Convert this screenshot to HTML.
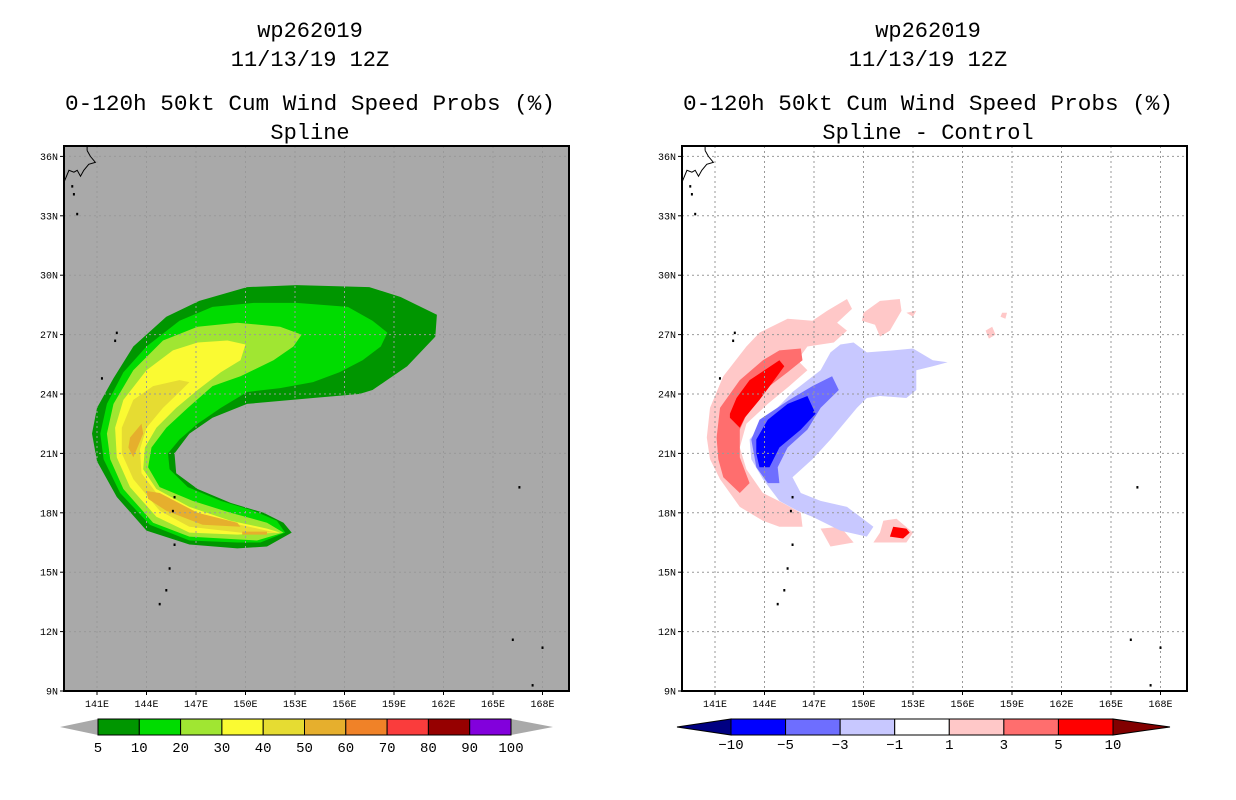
<!DOCTYPE html>
<html><head><meta charset="utf-8"><style>
html,body{margin:0;padding:0;background:#fff;}
svg{display:block;}
text{font-family:"Liberation Mono",monospace;}
</style></head><body>
<svg id="root" width="1236" height="800" viewBox="0 0 1236 800" xmlns="http://www.w3.org/2000/svg"></svg>
<script>
// ---- data ----
const latTicks=[36,33,30,27,24,21,18,15,12,9];
const lonTicks=[141,144,147,150,153,156,159,162,165,168];
const probLevels=[5,10,20,30,40,50,60,70,80,90,100];
const probColors=['#009600','#00dc00','#a0e632','#fafa32','#e6dc32','#e6af2d','#f08228','#fa3c3c','#960000','#8200dc'];
const diffLevels=[-10,-5,-3,-1,1,3,5,10];
const diffColors=['#0000ff','#6e6eff','#c8c8ff','#ffffff','#ffc8c8','#ff6e6e','#ff0000'];
// contour polygons [lon,lat]
const prob5=[[152.8,17.0],[151.3,16.3],[149.5,16.2],[146.6,16.4],[144.0,17.1],[142.2,18.8],[141.0,20.6],[140.7,22.0],[141.0,23.3],[142.0,24.8],[143.2,26.4],[145.2,27.9],[147.2,28.7],[150.1,29.4],[153.1,29.5],[157.5,29.4],[159.4,28.9],[161.6,28.0],[161.5,26.9],[159.8,25.4],[157.7,24.2],[156.9,24.0],[154.1,23.8],[150.1,23.5],[148.0,22.8],[146.6,22.0],[145.7,21.0],[145.8,20.0],[147.1,19.2],[149.1,18.5],[151.1,18.0],[152.3,17.5]];
const prob10=[[152.4,17.0],[150.9,16.5],[149.5,16.5],[146.6,16.6],[144.2,17.4],[142.4,19.0],[141.4,20.7],[141.2,22.0],[141.6,23.5],[142.6,25.1],[144.0,26.4],[146.0,27.7],[148.0,28.4],[150.5,28.6],[153.1,28.6],[156.2,28.4],[157.7,27.7],[158.6,27.1],[158.2,26.4],[157.1,25.7],[155.7,25.1],[154.1,24.6],[152.1,24.3],[150.1,24.1],[148.5,23.3],[147.1,22.5],[146.0,21.7],[145.3,21.0],[145.4,20.2],[146.5,19.3],[148.5,18.6],[150.5,18.1],[151.9,17.6]];
const prob20=[[152.3,17.0],[150.7,16.6],[146.6,16.8],[144.4,17.5],[142.6,19.2],[141.8,20.7],[141.6,22.0],[142.0,23.5],[143.2,25.2],[145.0,26.7],[147.1,27.4],[149.5,27.6],[152.1,27.4],[153.4,27.0],[152.9,26.4],[151.7,25.7],[149.7,24.9],[148.0,24.4],[146.5,23.3],[145.2,22.3],[144.3,21.3],[144.1,20.3],[144.8,19.3],[146.8,18.6],[149.1,18.0],[151.3,17.5]];
const prob30=[[152.1,17.0],[149.5,16.9],[146.6,17.0],[144.6,17.8],[143.0,19.3],[142.2,20.8],[142.1,22.3],[142.6,23.7],[144.0,25.2],[145.6,26.2],[147.1,26.6],[148.9,26.7],[150.0,26.5],[149.7,25.7],[148.5,25.1],[147.1,24.2],[145.8,23.3],[144.6,22.3],[143.9,21.3],[143.8,20.2],[144.6,19.2],[146.6,18.3],[149.1,17.6],[151.3,17.2]];
const prob40=[[151.9,17.0],[149.7,17.0],[146.6,17.3],[144.8,18.1],[143.2,19.7],[142.5,21.0],[142.5,22.3],[143.2,23.7],[144.4,24.4],[146.0,24.7],[146.6,24.6],[146.0,24.1],[145.0,23.3],[144.0,22.3],[143.6,21.2],[143.7,20.0],[144.6,19.0],[146.6,18.1],[149.1,17.5],[151.3,17.1]];
const prob50a=[[143.0,21.8],[143.7,22.5],[143.8,22.0],[143.2,20.8],[142.9,21.3]];
const prob50b=[[144.0,19.1],[144.8,19.0],[147.1,18.0],[149.5,17.5],[149.7,17.3],[147.4,17.4],[145.2,18.1],[144.1,18.7]];
const prob50c=[[149.8,17.05],[151.3,17.05],[151.3,16.9],[149.8,16.9]];
const diffPos1=[[140.5,21.8],[140.7,23.3],[141.5,24.9],[142.9,26.4],[143.7,27.1],[145.4,27.8],[146.9,27.7],[147.8,28.2],[149.0,28.8],[149.3,28.3],[148.4,27.6],[149.0,27.2],[148.2,26.6],[146.6,26.4],[146.0,25.7],[146.6,25.2],[145.5,24.4],[144.2,23.5],[142.9,22.5],[142.5,21.3],[142.9,20.2],[143.9,19.0],[145.1,18.5],[146.2,18.0],[146.3,17.3],[144.9,17.3],[143.9,17.6],[142.5,18.3],[141.3,19.7],[140.7,20.7]];
const diffPos1b=[[147.4,17.2],[148.6,17.3],[149.4,16.5],[148.0,16.3]];
const diffPos1c=[[151.2,17.6],[152.0,17.7],[153.0,17.0],[152.6,16.5],[150.6,16.5],[151.0,17.0]];
const diffPos1d=[[150.0,28.1],[151.0,28.7],[152.2,28.8],[152.3,28.2],[151.6,27.2],[151.0,26.9],[150.7,27.5],[149.9,27.7]];
const diffPos1e=[[157.4,27.2],[157.8,27.4],[158.0,27.0],[157.6,26.8]];
const diffPos1f=[[158.4,28.1],[158.7,28.1],[158.6,27.8],[158.3,27.9]];
const diffPos1g=[[152.6,28.1],[153.2,28.2],[153.0,27.9]];
const diffPos3=[[141.1,21.8],[141.3,23.3],[142.5,24.7],[143.9,25.7],[144.9,26.2],[146.2,26.3],[146.3,25.7],[145.4,25.1],[144.3,24.4],[143.1,23.3],[142.5,22.2],[142.5,20.8],[143.1,19.5],[142.5,19.0],[141.5,19.8],[141.2,20.7]];
const diffPos5=[[141.9,23.0],[142.3,23.8],[143.1,24.7],[144.9,25.7],[145.2,25.4],[144.5,24.6],[143.7,23.7],[142.8,22.8],[142.5,22.3],[141.9,22.8]];
const diffPos5b=[[151.8,17.3],[152.6,17.2],[152.8,17.0],[152.4,16.7],[151.6,16.8]];
const diffNeg1=[[143.1,21.7],[144.2,22.8],[145.7,24.1],[147.4,25.2],[148.0,26.1],[148.6,26.5],[149.4,26.6],[150.2,26.1],[151.8,26.2],[153.0,26.3],[154.2,25.7],[155.1,25.6],[154.2,25.4],[153.2,25.2],[153.2,24.2],[152.6,23.8],[151.0,23.9],[150.2,23.8],[149.6,23.3],[149.0,22.7],[148.0,21.7],[146.9,20.7],[145.7,19.8],[146.2,19.0],[147.4,18.6],[149.0,18.3],[149.8,17.8],[150.6,17.3],[150.2,16.8],[148.6,17.1],[146.9,17.8],[146.0,18.1],[144.9,18.6],[143.9,19.7],[143.2,20.7]];
const diffNeg3=[[143.2,21.7],[143.7,22.7],[145.5,23.7],[146.9,24.4],[148.1,24.9],[148.5,24.2],[147.4,23.3],[146.6,22.2],[145.4,21.3],[144.8,20.3],[144.9,19.5],[144.2,19.5],[143.5,20.3]];
const diffNeg5=[[143.5,21.7],[144.2,22.7],[145.4,23.5],[146.6,23.9],[147.1,23.0],[146.2,22.2],[144.9,21.3],[144.3,20.3],[143.7,20.3],[143.5,21.0]];
const coast=[[140.4,36.3],[140.6,36.0],[140.9,35.7],[140.5,35.6],[140.2,35.3],[140.0,35.0],[139.8,35.3],[139.6,35.2],[139.3,35.3],[139.0,34.7]];
const islands=[[139.5,34.5],[139.6,34.1],[139.8,33.1],[142.2,27.1],[142.1,26.7],[141.3,24.8],[145.7,18.8],[145.6,18.1],[145.7,16.4],[145.4,15.2],[145.2,14.1],[144.8,13.4],[166.6,19.3],[166.2,11.6],[167.4,9.3],[168.0,11.2]];

// ---- axes ----
const LON0=139, LAT0=9, PXD=16.5, PYD=19.8, PTOP=146, PBOT=691, PW=505;
const panels=[{x:64,name:'left'},{x:682,name:'right'}];
const NS='http://www.w3.org/2000/svg';
const root=document.getElementById('root');
function el(tag,attrs,parent){const e=document.createElementNS(NS,tag);for(const k in attrs)e.setAttribute(k,attrs[k]);(parent||root).appendChild(e);return e;}
function xs(p,lon){return p.x+(lon-LON0)*PXD;}
function ys(lat){return PBOT-(lat-LAT0)*PYD;}
function poly(p,pts,fill,g,name){const d=pts.map(q=>xs(p,q[0]).toFixed(1)+','+ys(q[1]).toFixed(1)).join(' ');
 const e=el('polygon',{points:d,fill:fill},g);
 
 return e;}

function titles(cx,l4){
 const lines=[['wp262019',30],['11/13/19 12Z',59],['0-120h 50kt Cum Wind Speed Probs (%)',103],[l4,132]];
 lines.forEach((l,i)=>{const t=el('text',{x:cx,y:l[1]+7,'text-anchor':'middle','font-size':'22'});
 t.textContent=l[0];
 if(i==2){t.setAttribute('textLength','490');t.setAttribute('lengthAdjust','spacingAndGlyphs');}
 
 });
}

function frame(p,bg){
 const g=el('g',{});
 
 
 const cp=el('clipPath',{id:'clip'+p.name},g);el('rect',{x:p.x,y:PTOP,width:PW,height:PBOT-PTOP},cp);
 const bgr=el('rect',{x:p.x,y:PTOP,width:PW,height:PBOT-PTOP,fill:bg},g);
 
 
 const cg=el('g',{'clip-path':'url(#clip'+p.name+')'},g);
 return {g,cg};
}
function decorate(p,g){
 const gg=el('g',{stroke:'#999','stroke-width':1,'stroke-dasharray':'2,3'},g);
 
 
 latTicks.forEach(v=>{if(v>LAT0)el('line',{x1:p.x,x2:p.x+PW,y1:ys(v),y2:ys(v)},gg);});
 lonTicks.forEach(v=>el('line',{x1:xs(p,v),x2:xs(p,v),y1:PTOP,y2:PBOT},gg));
 const cst=el('polyline',{points:coast.map(q=>xs(p,q[0])+','+ys(q[1])).join(' '),fill:'none',stroke:'#000','stroke-width':1},g);
 
 
 el('line',{x1:xs(p,140.4),x2:xs(p,140.4),y1:PTOP,y2:ys(36.3),stroke:'#000'},g);
 islands.forEach(q=>{const r=el('rect',{x:xs(p,q[0])-1,y:ys(q[1])-1,width:2,height:2.5,fill:'#000'},g);
 
 });
 const fr=el('rect',{x:p.x,y:PTOP,width:PW,height:PBOT-PTOP,fill:'none',stroke:'#000','stroke-width':2},g);
 
 
 latTicks.forEach(v=>{el('line',{x1:p.x-4,x2:p.x,y1:ys(v),y2:ys(v),stroke:'#000'},g);
  const t=el('text',{x:p.x-6,y:ys(v)+3.5,'text-anchor':'end','font-size':'10'},g);t.textContent=v+'N';
  
  });
 lonTicks.forEach(v=>{el('line',{x1:xs(p,v),x2:xs(p,v),y1:PBOT,y2:PBOT+4,stroke:'#000'},g);
  const t=el('text',{x:xs(p,v),y:PBOT+16,'text-anchor':'middle','font-size':'10'},g);t.textContent=v+'E';
  
  });
}

// left panel
titles(310,'Spline');
const L=panels[0];const fl=frame(L,'#a9a9a9');
[[prob5,0],[prob10,1],[prob20,2],[prob30,3],[prob40,4],[prob50a,5],[prob50b,5],[prob50c,5]].forEach(a=>poly(L,a[0],probColors[a[1]],fl.cg,'contour-'+probLevels[a[1]]));
decorate(L,fl.g);
// left colorbar
{const g=el('g',{});
 
 
 const x0=98,x1=511,y0=719,y1=735,w=(x1-x0)/probColors.length;
 el('polygon',{points:`60,727 ${x0},${y0} ${x0},${y1}`,fill:'#a9a9a9'},g);
 el('polygon',{points:`553,727 ${x1},${y0} ${x1},${y1}`,fill:'#a9a9a9'},g);
 probColors.forEach((c,i)=>{const r=el('rect',{x:x0+i*w,y:y0,width:w,height:y1-y0,fill:c,stroke:'#000','stroke-width':1},g);
 
 });
 probLevels.forEach((v,i)=>{const t=el('text',{x:x0+i*w,y:752,'text-anchor':'middle','font-size':'14'},g);t.textContent=v;
 
 });
}
// right panel
titles(928,'Spline - Control');
const R=panels[1];const fr=frame(R,'#ffffff');
[[diffPos1,4],[diffPos1b,4],[diffPos1c,4],[diffPos1d,4],[diffPos1e,4],[diffPos1f,4],[diffPos1g,4],[diffPos3,5],[diffPos5,6],[diffPos5b,6],[diffNeg1,2],[diffNeg3,1],[diffNeg5,0]].forEach(a=>poly(R,a[0],diffColors[a[1]],fr.cg,'diff-contour'));
decorate(R,fr.g);
{const g=el('g',{});
 
 
 const x0=731,x1=1113,y0=719,y1=735,w=(x1-x0)/diffColors.length;
 el('polygon',{points:`677,727 ${x0},${y0} ${x0},${y1}`,fill:'#000082',stroke:'#000'},g);
 el('polygon',{points:`1170,727 ${x1},${y0} ${x1},${y1}`,fill:'#820000',stroke:'#000'},g);
 diffColors.forEach((c,i)=>{const r=el('rect',{x:x0+i*w,y:y0,width:w,height:y1-y0,fill:c,stroke:'#000','stroke-width':1},g);
 
 });
 diffLevels.forEach((v,i)=>{const t=el('text',{x:x0+i*w,y:749,'text-anchor':'middle','font-size':'14'},g);t.textContent=(v<0?'\u2212'+(-v):v);
 
 });
}
</script>
</body></html>
